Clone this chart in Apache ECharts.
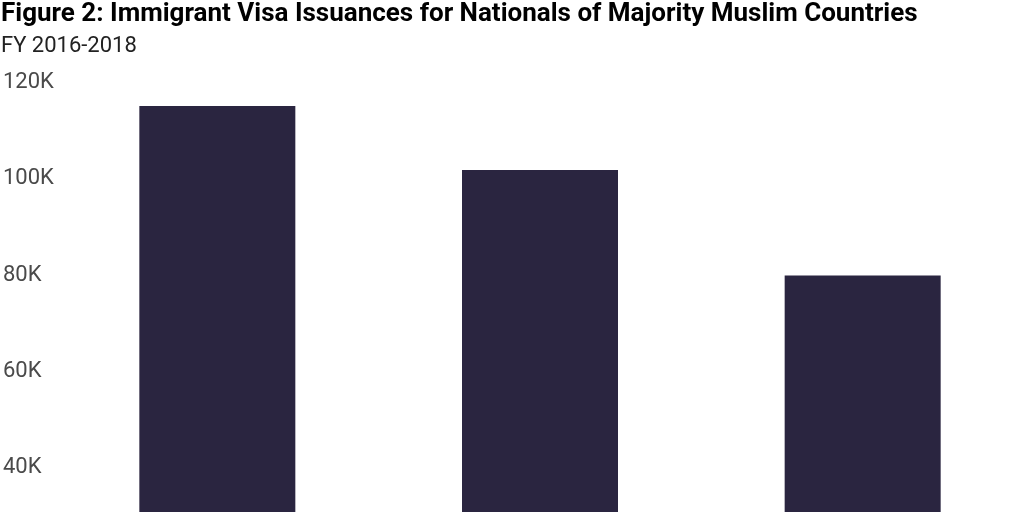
<!DOCTYPE html>
<html>
<head>
<meta charset="utf-8">
<script src="https://cdn.jsdelivr.net/npm/echarts@6/dist/echarts.min.js"></script>
<style>
html,body{margin:0;padding:0;background:#fff;width:1024px;height:512px;overflow:hidden;}
#chart{width:1024px;height:680px;}
</style>
</head>
<body>
<div id="chart"></div>
<script>
const titleText = 'Figure 2: Immigrant Visa Issuances for Nationals of Majority Muslim Countries';
const subtitleText = 'FY 2016-2018';
const categories = ['FY 2016', 'FY 2017', 'FY 2018'];
const issuances = [115100, 101800, 79900];
const yTicks = [0, 20000, 40000, 60000, 80000, 100000, 120000];

const chart = echarts.init(document.getElementById('chart'), null, {renderer: 'canvas'});
chart.setOption({
  animation: false,
  backgroundColor: '#ffffff',
  title: {
    text: titleText,
    subtext: subtitleText,
    left: 1,
    top: 0,
    padding: 0,
    itemGap: 5,
    textStyle: {fontFamily: 'Roboto', fontWeight: 'bold', fontSize: 26, color: '#000000', lineHeight: 28},
    subtextStyle: {fontFamily: 'Roboto', fontWeight: 'normal', fontSize: 22, color: '#222222', lineHeight: 26}
  },
  grid: {left: 55, right: 0, top: 82.5, bottom: 20, containLabel: false},
  xAxis: {
    type: 'category',
    data: categories,
    axisLine: {show: false},
    axisTick: {show: false},
    axisLabel: {show: false}
  },
  yAxis: {
    type: 'value',
    min: yTicks[0],
    max: yTicks[yTicks.length - 1],
    interval: yTicks[1] - yTicks[0],
    axisLine: {show: false},
    axisTick: {show: false},
    splitLine: {show: false},
    axisLabel: {
      align: 'left',
      margin: 53,
      fontFamily: 'Roboto',
      fontSize: 22,
      color: '#4a4a4a',
      formatter: v => (v / 1000) + 'K'
    }
  },
  series: [{
    type: 'bar',
    data: issuances,
    barWidth: 156,
    itemStyle: {color: '#2a2540'}
  }]
});
</script>
</body>
</html>
